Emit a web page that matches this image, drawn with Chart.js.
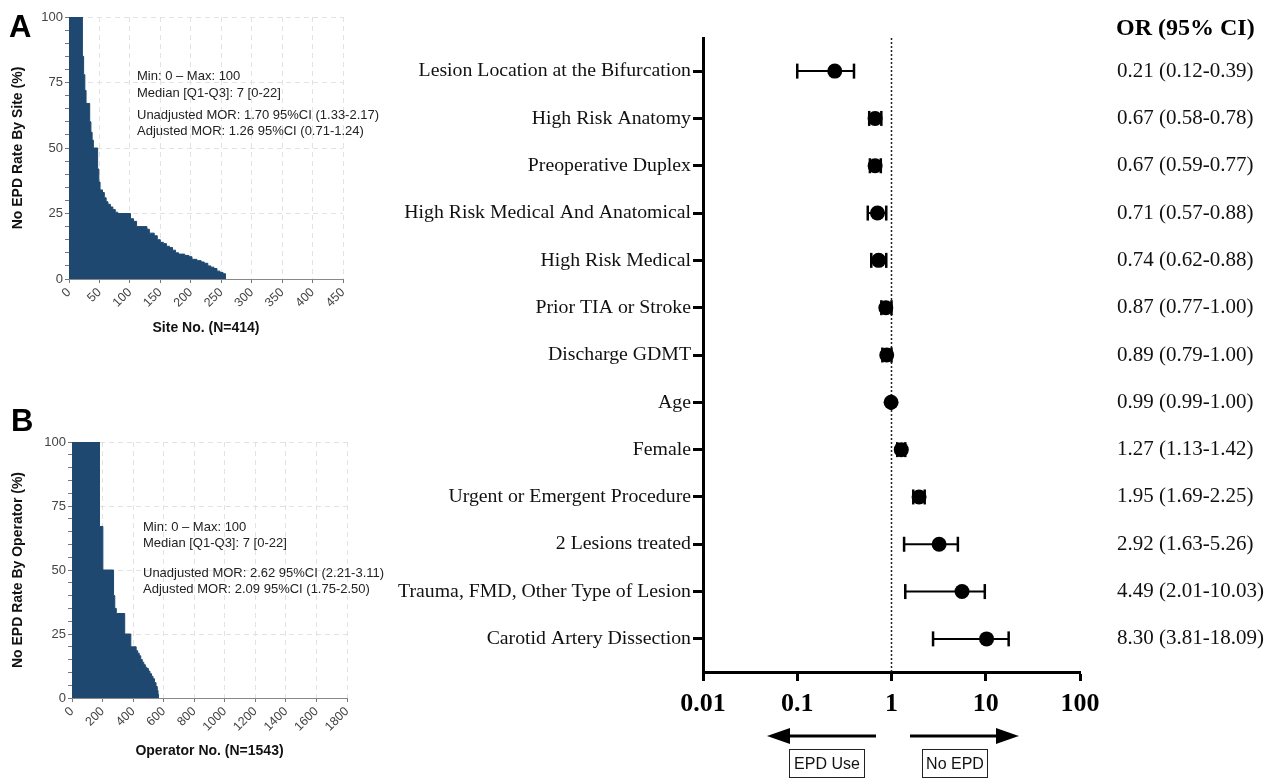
<!DOCTYPE html>
<html>
<head>
<meta charset="utf-8">
<script src="https://cdn.jsdelivr.net/npm/chart.js@4.4.1/dist/chart.umd.min.js"></script>
<style>
  body { margin: 0; background: #fff; width: 1269px; height: 780px; position: relative; overflow: hidden; font-family: 'Liberation Sans', Arial, sans-serif; }
  .abs { position: absolute; }
  canvas { position: absolute; }
  .panel { font-weight: bold; font-size: 31px; color: #000; line-height: 1; }
  .note { font-size: 13px; color: #222; line-height: 1; white-space: nowrap; }
  .hdr { font-family: 'Liberation Serif', 'Times New Roman', serif; font-weight: bold; font-size: 24px; line-height: 1; white-space: nowrap; }
  .box { border: 1.5px solid #222; font-size: 16px; text-align: center; line-height: 27px; height: 27px; color: #111; }
</style>
</head>
<body>
<canvas id="siteChart" width="380" height="345" style="left:0;top:0"></canvas>
<canvas id="opChart" width="380" height="370" style="left:0;top:400px"></canvas>
<canvas id="forest" width="889" height="730" style="left:380px;top:0"></canvas>

<div class="abs panel" style="left:9px;top:11px">A</div>
<div class="abs panel" style="left:11px;top:405px">B</div>

<div class="abs note" style="left:137px;top:69px">Min: 0 – Max: 100</div>
<div class="abs note" style="left:137px;top:86px">Median [Q1-Q3]: 7 [0-22]</div>
<div class="abs note" style="left:137px;top:108px">Unadjusted MOR: 1.70 95%CI (1.33-2.17)</div>
<div class="abs note" style="left:137px;top:124px">Adjusted MOR: 1.26 95%CI (0.71-1.24)</div>

<div class="abs note" style="left:143px;top:520px">Min: 0 – Max: 100</div>
<div class="abs note" style="left:143px;top:536px">Median [Q1-Q3]: 7 [0-22]</div>
<div class="abs note" style="left:143px;top:566px">Unadjusted MOR: 2.62 95%CI (2.21-3.11)</div>
<div class="abs note" style="left:143px;top:582px">Adjusted MOR: 2.09 95%CI (1.75-2.50)</div>

<div class="abs hdr" style="left:1116px;top:15px">OR (95% CI)</div>

<svg class="abs" style="left:0;top:0" width="1269" height="780">
  <line x1="876" y1="736" x2="784" y2="736" stroke="#000" stroke-width="3"/>
  <polygon points="767,736 790,728 790,744" fill="#000"/>
  <line x1="910" y1="736" x2="1002" y2="736" stroke="#000" stroke-width="3"/>
  <polygon points="1019,736 996,728 996,744" fill="#000"/>
</svg>
<div class="abs box" style="left:789px;top:749px;width:74px">EPD Use</div>
<div class="abs box" style="left:922px;top:749px;width:64px">No EPD</div>

<script>
// ---- panel A: site level no-EPD rate (sorted) ----
const siteNo = [0, 22, 24, 26, 28, 34, 36, 38, 40, 47, 49, 51, 55, 58, 61, 64, 68, 72, 76, 80, 101, 106, 111, 128, 132, 140, 145, 150, 155, 160, 165, 170, 175, 180, 190, 197, 202, 210, 217, 222, 228, 233, 238, 243, 248, 253, 257];
const siteRate = [100, 85, 78, 72, 67, 60, 56, 53, 50, 42, 37, 34, 33, 31, 29.5, 28.5, 27.5, 26.5, 25.5, 25, 23, 22, 20, 19, 17.5, 16.5, 15, 14, 13.5, 12.5, 12, 11, 10, 9.5, 9, 8.5, 7.5, 7, 6.5, 6, 5, 4.5, 4, 3, 2.5, 2, 0];

// ---- panel B: operator level no-EPD rate (sorted) ----
const opNo = [0, 180, 202, 272, 280, 290, 345, 385, 420, 430, 440, 450, 460, 470, 480, 490, 500, 510, 520, 530, 540, 550, 558, 563, 566];
const opRate = [100, 67, 50, 40, 35, 33, 25, 20, 18.5, 17.5, 16.5, 15, 14, 13, 12, 11.5, 10.5, 9.5, 8.5, 7.5, 6, 4.5, 3, 1.5, 0];

// ---- forest plot ----
const rowLabels = [
  'Lesion Location at the Bifurcation',
  'High Risk Anatomy',
  'Preoperative Duplex',
  'High Risk Medical And Anatomical',
  'High Risk Medical',
  'Prior TIA or Stroke',
  'Discharge GDMT',
  'Age',
  'Female',
  'Urgent or Emergent Procedure',
  '2 Lesions treated',
  'Trauma, FMD, Other Type of Lesion',
  'Carotid Artery Dissection'
];
const orText = [
  '0.21 (0.12-0.39)', '0.67 (0.58-0.78)', '0.67 (0.59-0.77)', '0.71 (0.57-0.88)',
  '0.74 (0.62-0.88)', '0.87 (0.77-1.00)', '0.89 (0.79-1.00)', '0.99 (0.99-1.00)',
  '1.27 (1.13-1.42)', '1.95 (1.69-2.25)', '2.92 (1.63-5.26)', '4.49 (2.01-10.03)',
  '8.30 (3.81-18.09)'
];
// positions as drawn in the figure
const orPoint = [0.25, 0.67, 0.67, 0.71, 0.73, 0.87, 0.89, 0.99, 1.27, 1.96, 3.2, 5.6, 10.2];
const ciLow = [0.10, 0.58, 0.59, 0.56, 0.61, 0.78, 0.80, 0.98, 1.15, 1.70, 1.36, 1.40, 2.76];
const ciHigh = [0.40, 0.78, 0.77, 0.88, 0.88, 1.00, 1.00, 1.00, 1.40, 2.25, 5.06, 9.77, 17.5];
const xTickValues = [0.01, 0.1, 1, 10, 100];
const xTickLabels = ['0.01', '0.1', '1', '10', '100'];

const fill = '#1e4870';
const sans = "'Liberation Sans', Arial, sans-serif";
const serif = "'Liberation Serif', 'Times New Roman', serif";

function areaChart(id, xs, ys, xMax, xStep, yTitle, xTitle, leftW, rightPad, topPad, bottomH, xTitlePad) {
  new Chart(document.getElementById(id), {
    type: 'line',
    data: {
      datasets: [{
        data: xs.map((x, i) => ({ x: x, y: ys[i] })),
        stepped: true,
        fill: 'origin',
        backgroundColor: fill,
        borderColor: fill,
        borderWidth: 1,
        pointRadius: 0
      }]
    },
    options: {
      responsive: false,
      animation: false,
      events: [],
      layout: { padding: { top: topPad, right: rightPad, left: 0, bottom: 0 } },
      plugins: { legend: { display: false }, tooltip: { enabled: false } },
      scales: {
        x: {
          type: 'linear', min: 0, max: xMax,
          afterFit: s => { s.height = bottomH; },
          ticks: { stepSize: xStep, minRotation: 45, maxRotation: 45, callback: v => String(v), font: { family: sans, size: 12.5 }, color: '#444', padding: 2 },
          grid: { color: '#e2e2e2', tickColor: '#777', tickLength: 4, drawTicks: true },
          border: { color: '#888', width: 1, dash: [5, 4] },
          title: { display: true, text: xTitle, font: { family: sans, size: 14, weight: 'bold' }, color: '#111', padding: { top: xTitlePad, bottom: xTitlePad } }
        },
        y: {
          type: 'linear', min: 0, max: 100,
          afterFit: s => { s.width = leftW; },
          ticks: { stepSize: 5, autoSkip: false, callback: v => (v % 25 === 0 ? v : ''), font: { family: sans, size: 13 }, color: '#444', padding: 2 },
          grid: {
            color: c => (c.tick && c.tick.value % 25 === 0 && c.tick.value > 0 ? '#e2e2e2' : 'rgba(0,0,0,0)'),
            tickColor: '#777', tickLength: 4
          },
          border: { color: '#888', width: 1, dash: [5, 4] },
          title: { display: true, text: yTitle, font: { family: sans, size: 14, weight: 'bold' }, color: '#111', padding: { top: 10, bottom: 10 } }
        }
      }
    }
  });
}

areaChart('siteChart', siteNo, siteRate, 450, 50, 'No EPD Rate By Site (%)', 'Site No. (N=414)', 69, 37, 17, 66, 8);
areaChart('opChart', opNo, opRate, 1800, 200, 'No EPD Rate By Operator (%)', 'Operator No. (N=1543)', 72, 33, 42, 72, 10);

const rowTicks = rowLabels.map((_, i) => ({ value: i + 1 }));

const ciSets = rowLabels.map((_, i) => ({
  type: 'line',
  data: [{ x: ciLow[i], y: i + 1 }, { x: ciHigh[i], y: i + 1 }],
  borderColor: '#000',
  borderWidth: 2,
  pointStyle: 'line',
  pointRotation: 90,
  pointRadius: 7.5,
  pointBorderWidth: 2.5,
  pointBorderColor: '#000',
  pointBackgroundColor: '#000'
}));

new Chart(document.getElementById('forest'), {
  type: 'scatter',
  data: {
    datasets: [
      {
        data: orPoint.map((v, i) => ({ x: v, y: i + 1 })),
        pointRadius: 7.5,
        pointBackgroundColor: '#000',
        pointBorderColor: '#000',
        pointBorderWidth: 0
      },
      ...ciSets,
      {
        type: 'line',
        data: [{ x: 1, y: 0.3 }, { x: 1, y: 13.7 }],
        borderColor: '#222',
        borderWidth: 1.5,
        borderDash: [2, 2],
        pointRadius: 0
      }
    ]
  },
  options: {
    responsive: false,
    animation: false,
    events: [],
    layout: { padding: { top: 38, left: 0, right: 0, bottom: 0 } },
    plugins: { legend: { display: false }, tooltip: { enabled: false } },
    scales: {
      x: {
        type: 'logarithmic', min: 0.01, max: 100,
        afterFit: s => { s.height = 58; },
        afterBuildTicks: s => { s.ticks = xTickValues.map(v => ({ value: v })); },
        ticks: {
          autoSkip: false, maxRotation: 0,
          callback: (v, i) => xTickLabels[i],
          font: { family: serif, size: 26, weight: 'bold' }, color: '#000', padding: 8
        },
        grid: { drawOnChartArea: false, tickLength: 9, tickWidth: 3, tickColor: '#000' },
        border: { color: '#000', width: 3 }
      },
      y: {
        type: 'linear', min: 0.3, max: 13.7, reverse: true, position: 'left',
        afterFit: s => { s.width = 323; s.paddingTop = 0; s.paddingBottom = 0; },
        afterBuildTicks: s => { s.ticks = rowTicks.map(t => ({ value: t.value })); },
        ticks: {
          autoSkip: false,
          callback: v => rowLabels[v - 1],
          font: { family: serif, size: 19.8 }, color: '#111', padding: 2
        },
        grid: { drawOnChartArea: false, tickLength: 10, tickWidth: 3, tickColor: '#000' },
        border: { color: '#000', width: 3 }
      },
      yr: {
        type: 'linear', min: 0.3, max: 13.7, reverse: true, position: 'right',
        afterFit: s => { s.width = 189; s.paddingTop = 0; s.paddingBottom = 0; },
        afterBuildTicks: s => { s.ticks = rowTicks.map(t => ({ value: t.value })); },
        ticks: {
          autoSkip: false,
          callback: v => orText[v - 1],
          font: { family: serif, size: 21 }, color: '#111', padding: 37
        },
        grid: { display: false, drawTicks: false },
        border: { display: false }
      }
    }
  }
});
</script>
</body>
</html>
